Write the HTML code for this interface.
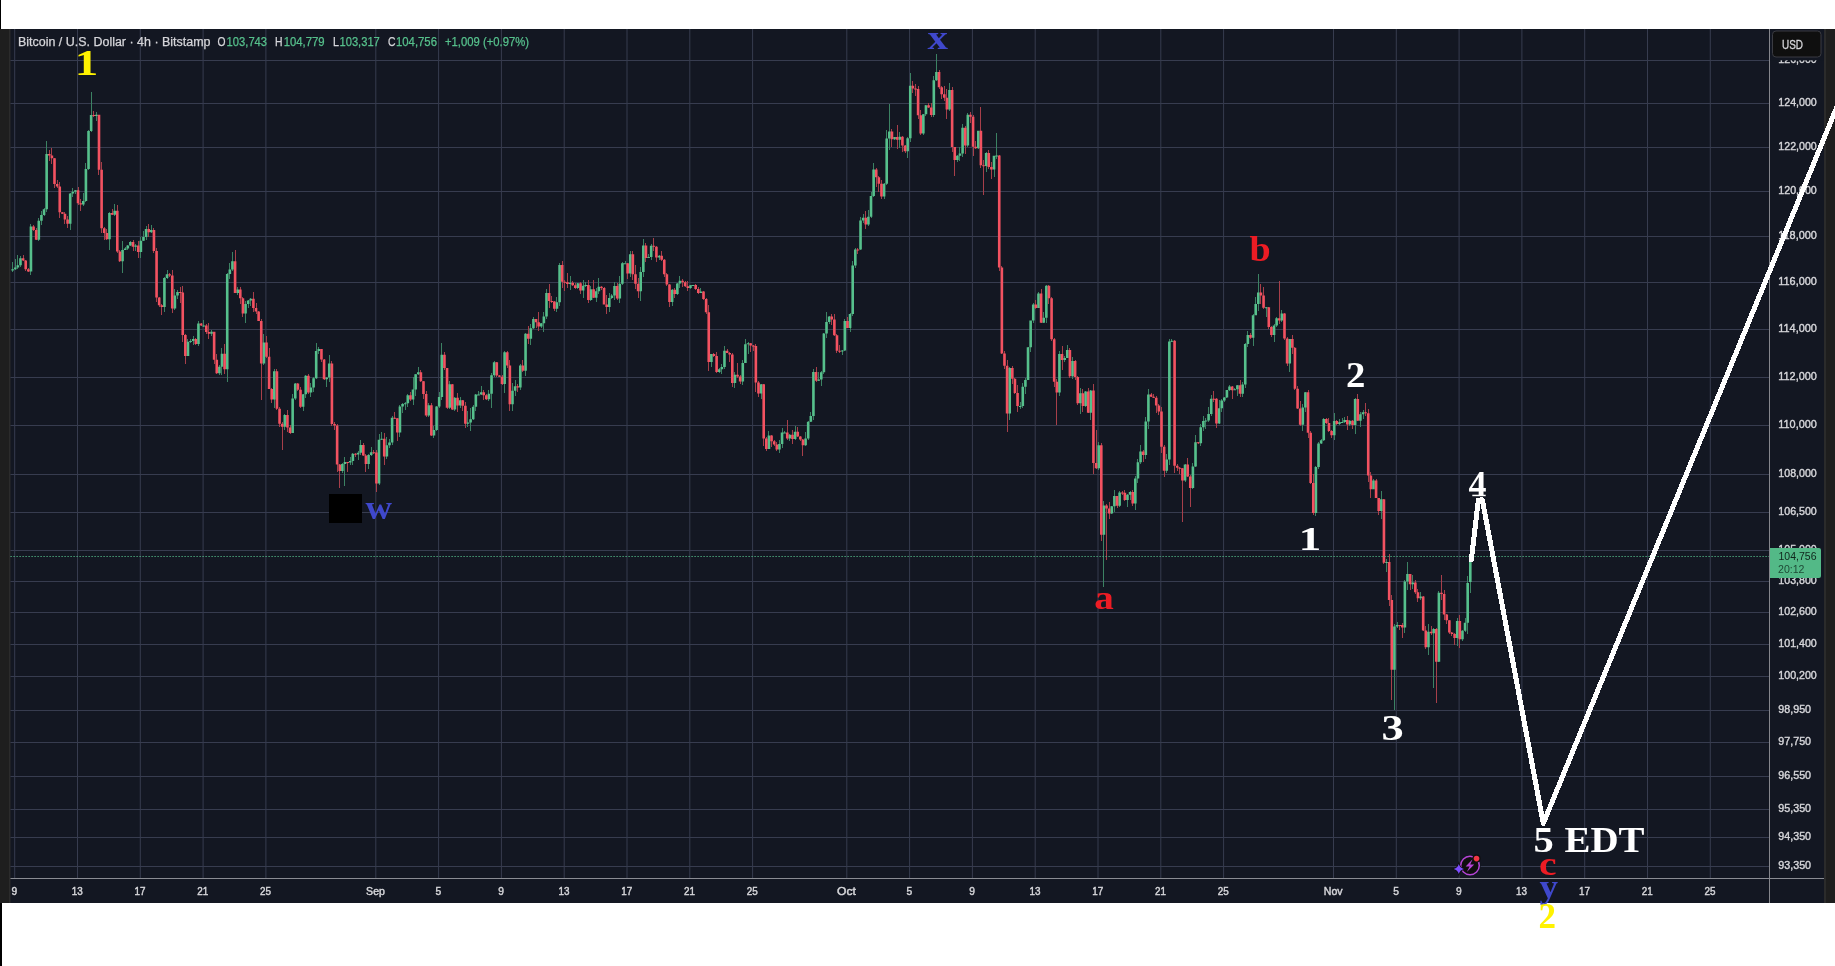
<!DOCTYPE html>
<html><head><meta charset="utf-8"><title>BTCUSD</title>
<style>
html,body{margin:0;padding:0;background:#fff;}
body{width:1835px;height:966px;overflow:hidden;position:relative;font-family:"Liberation Sans",sans-serif;}
svg{position:absolute;left:0;top:0;display:block;will-change:transform}
.s{font-family:"Liberation Sans",sans-serif}
.e{font-family:"Liberation Serif",serif;font-weight:bold}
</style></head><body>
<svg width="1835" height="966" viewBox="0 0 1835 966">
<rect x="0" y="0" width="1835" height="966" fill="#fff"/>
<rect x="0" y="0" width="1" height="29" fill="#000"/>
<rect x="0" y="903" width="2" height="63" fill="#000"/>
<rect x="0" y="29" width="1835" height="874" fill="#1e1e1e"/>
<rect x="9" y="29" width="1817" height="874" fill="#2b2b2b"/>
<rect x="10.5" y="29" width="1813.5" height="874" fill="#131722"/>

<path d="M10.5 60.5H1770M10.5 103.5H1770M10.5 147.5H1770M10.5 191.5H1770M10.5 236.5H1770M10.5 282.5H1770M10.5 329.5H1770M10.5 377.5H1770M10.5 425.5H1770M10.5 474.5H1770M10.5 512.5H1770M10.5 550.5H1770M10.5 581.5H1770M10.5 612.5H1770M10.5 644.5H1770M10.5 676.5H1770M10.5 710.5H1770M10.5 742.5H1770M10.5 776.5H1770M10.5 809.5H1770M10.5 837.5H1770M10.5 866.5H1770M14.7 29V878.5M77.5 29V878.5M140.3 29V878.5M203.1 29V878.5M265.9 29V878.5M375.8 29V878.5M438.6 29V878.5M501.4 29V878.5M564.2 29V878.5M627.0 29V878.5M689.8 29V878.5M752.6 29V878.5M846.8 29V878.5M909.6 29V878.5M972.4 29V878.5M1035.2 29V878.5M1098.0 29V878.5M1160.8 29V878.5M1223.6 29V878.5M1333.5 29V878.5M1396.3 29V878.5M1459.1 29V878.5M1521.9 29V878.5M1584.7 29V878.5M1647.5 29V878.5M1710.3 29V878.5" stroke="#373c4f" stroke-width="1" fill="none"/>

<g shape-rendering="crispEdges">
<path d="M12.63 262.2V271.8M15.25 258.6V269.5M17.87 254.8V268.7M20.48 256.0V266.6M30.95 223.5V275.0M38.80 218.1V241.1M41.42 211.3V225.4M44.03 208.4V215.5M46.65 141.0V212.3M70.20 192.5V229.9M72.82 188.4V196.5M75.44 190.2V194.1M83.29 193.3V205.5M85.91 162.7V201.5M88.52 129.9V170.3M91.14 91.7V131.7M96.38 112.1V120.6M109.46 212.4V249.5M114.69 204.2V215.9M122.54 240.5V272.5M125.16 247.4V250.4M127.78 244.5V249.5M130.40 241.4V245.7M135.63 243.7V251.2M140.86 237.2V257.6M143.48 231.1V241.0M146.10 225.6V239.7M151.33 224.5V232.5M164.42 277.0V311.6M167.03 269.6V279.1M174.88 289.3V310.3M177.50 289.7V298.7M187.97 338.7V356.2M190.59 339.2V343.1M193.20 336.0V345.0M198.44 320.9V345.6M203.67 320.2V326.7M211.52 329.8V335.9M219.37 365.2V374.6M221.99 348.3V375.2M227.22 273.3V382.0M229.84 262.9V278.7M232.46 251.7V271.0M237.69 287.3V294.5M245.54 300.7V323.2M248.16 299.6V308.0M250.78 297.9V305.5M263.86 334.3V365.3M274.33 368.8V407.5M284.80 413.7V430.2M292.65 394.2V433.1M295.27 383.3V400.1M303.12 393.5V411.3M305.73 374.9V397.7M310.97 382.8V396.9M313.59 376.7V391.7M316.20 343.0V379.3M318.82 347.1V353.7M326.67 377.4V386.5M329.29 354.9V381.9M342.37 462.7V473.3M344.99 457.0V486.0M350.22 456.7V465.0M352.84 452.5V464.5M358.08 451.0V460.2M360.69 440.4V455.0M368.54 453.9V469.2M371.16 447.2V455.7M379.01 434.0V484.6M381.63 431.9V440.2M386.86 436.6V459.0M389.48 439.4V448.1M392.10 416.4V445.0M399.95 404.9V437.1M402.56 402.7V413.2M405.18 402.1V410.2M407.80 393.8V407.4M413.03 376.9V404.8M415.65 374.0V396.2M418.27 367.1V375.4M428.73 402.6V417.1M433.97 426.1V438.0M436.59 405.8V431.2M439.20 392.4V407.9M441.82 343.0V400.1M449.67 381.3V409.0M454.90 396.7V410.5M460.14 396.7V408.0M467.99 411.2V427.3M470.61 408.1V431.1M473.22 405.0V419.7M475.84 394.2V410.9M478.46 391.2V395.3M481.07 385.5V395.2M488.92 390.1V400.8M491.54 373.0V407.9M494.16 361.3V376.6M504.63 351.1V392.8M512.48 382.5V411.2M515.09 380.4V395.5M520.33 363.8V389.7M525.56 332.9V375.7M530.80 323.7V345.3M533.41 316.5V328.9M541.26 322.9V328.2M543.88 312.2V332.0M546.50 288.5V319.1M556.97 296.9V312.2M559.58 263.4V306.2M570.05 276.3V289.7M577.90 283.1V288.7M583.14 280.3V297.6M585.75 281.5V287.4M590.99 285.7V301.0M596.22 287.6V301.8M598.84 278.4V294.2M609.31 292.9V311.8M611.92 293.5V298.6M614.54 282.2V300.4M619.77 276.2V302.5M622.39 262.1V284.5M625.01 261.4V263.4M630.24 251.4V277.2M640.71 266.6V300.9M643.33 239.1V276.9M648.56 254.2V258.4M651.18 243.7V260.4M659.03 254.5V260.4M672.12 289.3V305.7M677.35 283.1V295.3M679.97 276.0V288.1M690.43 285.1V289.4M693.05 284.9V285.6M700.90 288.2V293.0M711.37 354.0V367.2M719.22 367.9V372.5M721.84 363.8V373.5M724.45 346.2V368.9M734.92 372.3V388.2M742.77 359.5V385.2M745.39 339.2V363.3M748.01 341.9V353.9M761.09 384.1V398.7M768.94 431.4V449.1M779.41 440.1V452.9M782.03 427.7V448.2M784.65 431.2V432.9M789.88 434.2V440.7M795.11 426.0V439.7M805.58 432.4V446.0M808.20 420.6V439.8M810.82 411.9V422.0M813.43 369.3V420.1M818.67 372.2V381.2M821.28 370.8V385.5M823.90 332.5V373.6M826.52 312.2V338.4M829.13 316.2V323.6M842.22 349.5V354.8M844.84 318.9V351.4M850.07 313.3V331.9M852.69 261.4V316.2M855.30 248.4V268.0M860.54 217.2V249.5M863.16 214.2V222.5M868.39 210.3V226.4M871.01 192.2V218.0M873.62 162.6V197.0M884.09 183.0V199.3M886.71 130.3V185.2M889.33 104.0V149.7M894.56 136.7V140.0M899.79 132.4V148.1M907.64 136.6V157.5M910.26 73.0V142.3M923.35 114.2V134.5M925.96 104.8V115.6M933.81 76.4V116.8M936.43 54.0V81.3M949.52 83.1V111.3M957.37 155.0V162.4M959.98 147.2V161.0M962.60 123.5V156.5M967.84 112.8V146.8M978.30 130.7V148.9M986.15 151.7V171.5M994.01 155.7V176.9M996.62 133.0V159.4M1009.71 367.0V419.6M1020.18 402.2V408.7M1022.79 382.9V407.8M1025.41 378.3V393.7M1028.03 346.7V380.3M1030.64 320.6V352.4M1033.26 302.8V322.8M1038.49 292.2V308.2M1043.73 311.7V322.9M1046.35 284.6V322.5M1059.43 350.6V395.5M1064.66 356.0V362.3M1067.28 344.7V358.3M1072.52 357.4V378.6M1080.37 388.0V413.7M1085.60 391.0V406.7M1090.84 389.6V419.9M1098.69 442.0V469.5M1103.92 500.9V587.4M1111.77 505.6V514.3M1114.39 489.7V511.5M1119.62 490.9V507.0M1127.47 493.5V506.7M1130.09 490.8V499.6M1135.32 476.1V510.1M1137.94 459.4V483.1M1140.56 444.8V464.0M1145.79 417.4V458.6M1148.41 388.9V428.6M1166.73 453.9V473.0M1169.35 339.0V464.5M1171.96 339.0V342.4M1185.05 463.9V481.6M1192.90 463.1V488.9M1195.51 435.4V467.0M1200.75 424.4V445.7M1203.37 416.4V430.8M1205.98 418.4V428.7M1208.60 407.3V422.4M1211.22 394.7V415.7M1219.07 400.0V423.5M1221.68 399.4V412.2M1224.30 397.2V401.8M1226.92 389.7V397.9M1229.54 385.1V391.0M1234.77 388.3V390.3M1237.39 384.8V396.1M1242.62 382.1V397.2M1245.24 342.8V387.8M1247.86 331.3V346.8M1253.09 314.2V346.2M1255.71 297.3V315.4M1258.32 274.0V310.5M1266.17 306.9V317.4M1274.02 324.2V341.8M1276.64 316.9V326.9M1281.88 309.8V321.7M1289.73 338.6V371.7M1302.81 404.3V430.5M1305.43 391.5V412.3M1315.90 466.2V515.8M1318.51 442.0V468.6M1321.13 438.6V444.3M1323.75 418.0V441.2M1334.22 412.7V439.6M1339.45 418.9V424.9M1342.07 418.4V423.4M1344.68 416.6V423.3M1349.92 420.1V425.6M1355.15 397.6V433.6M1360.39 412.1V427.1M1363.00 410.2V418.9M1373.47 479.0V489.4M1381.32 491.0V518.8M1386.56 558.6V571.5M1394.41 623.7V710.4M1397.02 622.3V628.0M1404.88 579.5V632.9M1407.49 562.0V589.9M1412.73 575.4V589.0M1420.58 592.0V599.5M1428.43 623.8V654.8M1433.66 627.9V687.5M1438.90 591.2V662.3M1457.21 617.9V646.2M1462.45 629.5V641.1M1465.07 617.8V632.1M1467.68 575.6V633.8M1470.30 555.5V593.0" stroke="#3c8263" stroke-width="1" fill="none"/>
<path d="M23.10 255.2V261.4M25.72 259.8V270.8M28.33 267.7V272.4M33.57 225.0V231.4M36.18 228.0V240.2M49.27 150.2V160.8M51.89 148.3V163.9M54.50 158.1V188.2M57.12 179.8V188.4M59.74 182.0V218.3M62.35 211.6V214.1M64.97 212.3V223.9M67.59 216.2V227.6M78.06 187.4V205.0M80.67 198.5V211.1M93.76 111.3V117.2M98.99 114.6V174.5M101.61 161.7V233.2M104.23 227.3V240.1M106.84 228.9V240.0M112.08 208.6V215.3M117.31 204.7V252.7M119.93 249.8V262.0M133.01 239.9V250.6M138.25 240.9V258.3M148.71 223.9V236.7M153.95 227.9V253.0M156.57 247.7V302.4M159.18 296.7V307.1M161.80 303.9V314.7M169.65 273.4V277.0M172.27 270.3V312.6M180.12 286.7V302.5M182.74 285.7V342.2M185.35 334.1V364.2M195.82 338.1V345.3M201.06 322.7V326.4M206.29 324.2V333.8M208.91 322.8V338.8M214.14 331.6V363.9M216.76 354.4V373.6M224.61 344.3V373.8M235.08 250.0V293.3M240.31 286.5V304.1M242.93 297.0V317.2M253.39 292.2V312.4M256.01 303.3V313.9M258.63 311.1V321.3M261.25 318.6V400.0M266.48 335.9V357.5M269.10 347.8V389.3M271.71 388.2V403.0M276.95 369.0V410.1M279.57 407.0V426.6M282.18 421.7V450.0M287.42 410.4V432.3M290.03 424.9V434.2M297.88 383.3V390.9M300.50 386.7V407.8M308.35 373.9V393.5M321.44 348.6V361.8M324.05 358.6V379.8M331.90 361.0V426.1M334.52 422.2V430.0M337.14 424.3V471.7M339.76 464.2V488.0M347.61 461.6V471.6M355.46 452.9V457.3M363.31 443.1V456.2M365.93 454.2V471.7M373.78 450.4V453.6M376.39 449.7V492.0M384.24 432.6V464.7M394.71 411.8V419.1M397.33 418.3V440.6M410.41 392.4V400.6M420.88 370.2V381.8M423.50 381.0V399.2M426.12 391.0V416.7M431.35 402.9V435.9M444.44 352.4V370.0M447.05 368.1V409.2M452.29 383.7V410.0M457.52 392.7V412.4M462.75 399.8V411.3M465.37 402.4V427.9M483.69 389.6V399.9M486.31 393.6V400.3M496.78 362.2V376.5M499.39 374.6V377.1M502.01 374.8V384.6M507.24 351.4V368.4M509.86 360.1V411.4M517.71 383.9V391.6M522.95 359.8V371.9M528.18 326.2V343.6M536.03 318.8V328.4M538.65 311.6V330.6M549.12 283.8V307.5M551.73 296.4V303.0M554.35 300.6V310.5M562.20 260.8V288.2M564.82 280.1V290.7M567.43 273.3V287.9M572.67 281.1V285.7M575.29 283.4V289.3M580.52 281.9V293.6M588.37 280.4V302.7M593.60 279.8V298.3M601.46 286.0V290.1M604.07 287.3V304.4M606.69 294.6V313.5M617.16 282.8V299.6M627.63 262.7V278.6M632.86 251.3V280.2M635.48 264.7V288.6M638.09 277.7V297.7M645.94 242.7V262.1M653.80 237.5V250.8M656.41 246.1V261.9M661.65 250.7V260.9M664.26 259.4V276.7M666.88 273.3V285.9M669.50 283.5V307.1M674.73 288.2V297.6M682.58 278.9V286.6M685.20 280.6V287.0M687.82 281.3V290.8M695.67 284.0V290.1M698.28 287.0V293.6M703.52 290.8V300.0M706.14 297.7V313.6M708.75 305.3V370.6M713.99 352.7V356.6M716.60 352.2V373.1M727.07 348.9V353.4M729.69 351.7V362.0M732.31 352.9V386.7M737.54 363.3V378.1M740.16 375.4V384.3M750.62 343.0V351.5M753.24 344.7V350.7M755.86 344.2V392.3M758.48 380.6V396.9M763.71 383.5V445.6M766.33 437.0V451.4M771.56 434.9V446.6M774.18 439.9V446.4M776.79 441.5V450.6M787.26 420.1V439.5M792.50 430.2V444.0M797.73 426.6V436.9M800.35 436.1V440.7M802.96 438.6V455.7M816.05 366.6V381.7M831.75 314.4V325.2M834.37 314.2V335.7M836.99 334.1V353.0M839.60 344.7V352.5M847.45 316.5V328.1M857.92 248.4V253.8M865.77 210.6V228.5M876.24 167.5V186.9M878.86 176.3V191.8M881.47 179.7V198.8M891.94 129.0V147.4M897.18 125.0V148.6M902.41 135.6V152.0M905.03 145.1V152.8M912.88 80.6V92.9M915.50 83.9V95.6M918.11 86.4V118.9M920.73 110.4V134.8M928.58 103.2V107.8M931.20 102.7V116.6M939.05 69.7V88.5M941.67 85.5V99.3M944.28 86.0V100.8M946.90 89.0V119.3M952.13 87.0V151.8M954.75 147.0V176.0M965.22 125.6V154.2M970.45 111.5V123.4M973.07 115.4V155.9M975.69 141.1V149.0M980.92 107.0V167.9M983.54 159.8V195.0M988.77 149.9V168.6M991.39 161.7V179.0M999.24 155.2V271.2M1001.86 265.6V353.8M1004.47 351.4V368.8M1007.09 360.0V431.6M1012.32 366.2V384.3M1014.94 378.1V393.6M1017.56 384.5V412.4M1035.88 299.7V309.4M1041.11 288.6V323.0M1048.96 284.6V303.7M1051.58 296.9V340.6M1054.20 338.0V387.2M1056.81 378.9V425.0M1062.05 345.6V370.0M1069.90 348.2V377.6M1075.13 359.7V380.0M1077.75 376.0V405.0M1082.98 389.1V411.8M1088.22 388.2V413.3M1093.45 384.2V473.9M1096.07 430.0V469.4M1101.30 442.8V540.6M1106.54 504.0V560.0M1109.15 502.3V519.1M1117.00 495.6V507.8M1122.24 491.4V495.4M1124.86 489.8V500.8M1132.71 489.9V506.4M1143.17 450.0V461.7M1151.03 393.3V397.2M1153.64 394.3V397.9M1156.26 396.2V413.1M1158.88 403.9V415.0M1161.49 406.5V452.7M1164.11 444.6V476.6M1174.58 339.8V473.3M1177.20 464.0V470.9M1179.81 466.5V473.6M1182.43 467.9V522.0M1187.66 457.8V477.0M1190.28 475.3V507.0M1198.13 442.1V444.4M1213.83 390.8V402.1M1216.45 398.2V427.8M1232.15 385.7V399.2M1240.00 380.0V396.6M1250.47 333.2V338.5M1260.94 284.4V304.0M1263.56 287.4V308.6M1268.79 306.5V329.1M1271.41 325.5V337.2M1279.26 281.0V324.0M1284.49 312.5V339.9M1287.11 337.1V366.2M1292.34 335.0V353.5M1294.96 346.5V389.9M1297.58 385.9V408.5M1300.19 400.8V425.5M1308.05 389.9V438.0M1310.66 431.4V484.0M1313.28 473.5V514.7M1326.37 418.2V423.6M1328.98 417.8V431.8M1331.60 429.8V438.0M1336.83 419.5V425.4M1347.30 416.0V430.4M1352.53 419.6V429.1M1357.77 394.1V421.0M1365.62 402.6V415.9M1368.24 409.2V482.4M1370.85 472.4V498.1M1376.09 478.9V498.4M1378.70 497.6V514.6M1383.94 499.1V564.1M1389.17 553.7V606.1M1391.79 595.4V700.0M1399.64 624.9V630.1M1402.26 622.6V638.3M1410.11 573.7V590.4M1415.34 580.2V593.5M1417.96 589.2V602.3M1423.19 595.5V631.1M1425.81 625.7V648.5M1431.04 626.2V635.4M1436.28 628.2V703.0M1441.51 574.5V599.5M1444.13 590.0V619.6M1446.75 613.7V623.7M1449.36 620.0V634.1M1451.98 632.3V636.4M1454.60 633.0V644.7M1459.83 614.7V648.2" stroke="#a73f4a" stroke-width="1" fill="none"/>
</g>
<path d="M11.32 269.2h2.617V270.4h-2.617zM13.94 267.5h2.617V269.2h-2.617zM16.56 265.3h2.617V267.5h-2.617zM19.17 258.3h2.617V265.3h-2.617zM29.64 226.5h2.617V271.5h-2.617zM37.49 220.7h2.617V239.7h-2.617zM40.11 215.1h2.617V220.7h-2.617zM42.73 209.3h2.617V215.1h-2.617zM45.34 154.0h2.617V209.3h-2.617zM68.90 193.4h2.617V223.7h-2.617zM71.51 191.7h2.617V193.4h-2.617zM74.13 190.3h2.617V191.7h-2.617zM81.98 200.9h2.617V204.5h-2.617zM84.60 169.0h2.617V200.9h-2.617zM87.22 131.1h2.617V169.0h-2.617zM89.83 114.9h2.617V131.1h-2.617zM95.07 114.8h2.617V115.9h-2.617zM108.15 213.0h2.617V239.3h-2.617zM113.39 210.7h2.617V214.7h-2.617zM121.24 249.9h2.617V261.3h-2.617zM123.85 248.6h2.617V249.9h-2.617zM126.47 245.6h2.617V248.6h-2.617zM129.09 242.0h2.617V245.6h-2.617zM134.32 245.6h2.617V246.8h-2.617zM139.56 240.7h2.617V251.9h-2.617zM142.17 236.9h2.617V240.7h-2.617zM144.79 229.0h2.617V236.9h-2.617zM150.02 230.1h2.617V232.3h-2.617zM163.11 278.1h2.617V306.9h-2.617zM165.73 274.3h2.617V278.1h-2.617zM173.58 295.6h2.617V308.5h-2.617zM176.19 292.0h2.617V295.6h-2.617zM186.66 341.7h2.617V355.9h-2.617zM189.28 341.1h2.617V342.1h-2.617zM191.90 339.1h2.617V341.1h-2.617zM197.13 323.6h2.617V344.0h-2.617zM202.36 325.5h2.617V326.5h-2.617zM210.21 331.8h2.617V333.7h-2.617zM218.07 366.8h2.617V373.2h-2.617zM220.68 353.8h2.617V366.8h-2.617zM225.92 273.9h2.617V369.3h-2.617zM228.53 269.6h2.617V273.9h-2.617zM231.15 261.2h2.617V269.6h-2.617zM236.38 289.6h2.617V293.0h-2.617zM244.24 304.1h2.617V313.4h-2.617zM246.85 300.6h2.617V304.1h-2.617zM249.47 298.8h2.617V300.6h-2.617zM262.55 342.5h2.617V363.4h-2.617zM273.02 371.2h2.617V399.4h-2.617zM283.49 415.0h2.617V426.7h-2.617zM291.34 398.5h2.617V433.0h-2.617zM293.96 383.5h2.617V398.5h-2.617zM301.81 394.2h2.617V406.7h-2.617zM304.43 375.8h2.617V394.2h-2.617zM309.66 387.6h2.617V392.6h-2.617zM312.28 378.3h2.617V387.6h-2.617zM314.89 351.0h2.617V378.3h-2.617zM317.51 349.1h2.617V351.0h-2.617zM325.36 377.5h2.617V379.2h-2.617zM327.98 363.6h2.617V377.5h-2.617zM341.06 463.9h2.617V470.9h-2.617zM343.68 461.9h2.617V463.9h-2.617zM348.92 461.1h2.617V462.4h-2.617zM351.53 453.7h2.617V461.1h-2.617zM356.77 452.7h2.617V454.5h-2.617zM359.38 445.1h2.617V452.7h-2.617zM367.23 455.1h2.617V464.1h-2.617zM369.85 452.2h2.617V455.1h-2.617zM377.70 439.7h2.617V483.6h-2.617zM380.32 438.7h2.617V439.7h-2.617zM385.55 445.2h2.617V456.4h-2.617zM388.17 442.5h2.617V445.2h-2.617zM390.79 417.8h2.617V442.5h-2.617zM398.64 406.5h2.617V432.6h-2.617zM401.26 403.9h2.617V406.5h-2.617zM403.87 403.3h2.617V404.3h-2.617zM406.49 395.3h2.617V403.3h-2.617zM411.72 389.5h2.617V399.6h-2.617zM414.34 374.2h2.617V389.5h-2.617zM416.96 372.2h2.617V374.2h-2.617zM427.43 405.2h2.617V415.4h-2.617zM432.66 430.0h2.617V435.4h-2.617zM435.28 406.4h2.617V430.0h-2.617zM437.89 397.1h2.617V406.4h-2.617zM440.51 354.7h2.617V397.1h-2.617zM448.36 384.3h2.617V407.8h-2.617zM453.60 397.8h2.617V409.5h-2.617zM458.83 400.3h2.617V405.6h-2.617zM466.68 422.6h2.617V423.8h-2.617zM469.30 419.2h2.617V422.6h-2.617zM471.91 406.8h2.617V419.2h-2.617zM474.53 394.4h2.617V406.8h-2.617zM477.15 394.4h2.617V395.4h-2.617zM479.77 392.2h2.617V394.4h-2.617zM487.62 393.8h2.617V399.3h-2.617zM490.23 375.3h2.617V393.8h-2.617zM492.85 362.3h2.617V375.3h-2.617zM503.32 352.3h2.617V383.9h-2.617zM511.17 390.7h2.617V404.2h-2.617zM513.79 386.2h2.617V390.7h-2.617zM519.02 365.4h2.617V387.5h-2.617zM524.25 333.8h2.617V370.8h-2.617zM529.49 328.3h2.617V338.7h-2.617zM532.11 319.1h2.617V328.3h-2.617zM539.96 323.3h2.617V326.5h-2.617zM542.57 316.5h2.617V323.3h-2.617zM545.19 293.0h2.617V316.5h-2.617zM555.66 302.2h2.617V308.8h-2.617zM558.28 265.0h2.617V302.2h-2.617zM568.74 282.8h2.617V284.0h-2.617zM576.59 283.3h2.617V287.9h-2.617zM581.83 285.8h2.617V290.4h-2.617zM584.45 284.9h2.617V285.9h-2.617zM589.68 289.3h2.617V300.1h-2.617zM594.91 291.2h2.617V297.8h-2.617zM597.53 286.8h2.617V291.2h-2.617zM608.00 298.0h2.617V307.1h-2.617zM610.62 295.6h2.617V298.0h-2.617zM613.23 285.9h2.617V295.6h-2.617zM618.47 283.8h2.617V298.6h-2.617zM621.08 263.2h2.617V283.8h-2.617zM623.70 263.2h2.617V264.2h-2.617zM628.93 254.2h2.617V273.5h-2.617zM639.40 272.1h2.617V291.2h-2.617zM642.02 245.5h2.617V272.1h-2.617zM647.25 257.1h2.617V258.1h-2.617zM649.87 245.8h2.617V257.1h-2.617zM657.72 255.8h2.617V257.4h-2.617zM670.81 289.8h2.617V302.1h-2.617zM676.04 283.4h2.617V294.1h-2.617zM678.66 280.8h2.617V283.4h-2.617zM689.13 285.2h2.617V287.9h-2.617zM691.74 285.0h2.617V286.0h-2.617zM699.59 291.6h2.617V292.9h-2.617zM710.06 354.1h2.617V362.0h-2.617zM717.91 369.3h2.617V371.9h-2.617zM720.53 367.0h2.617V369.3h-2.617zM723.15 350.7h2.617V367.0h-2.617zM733.61 374.7h2.617V382.9h-2.617zM741.47 363.1h2.617V381.6h-2.617zM744.08 344.3h2.617V363.1h-2.617zM746.70 343.3h2.617V344.3h-2.617zM759.78 384.3h2.617V393.5h-2.617zM767.64 435.5h2.617V449.1h-2.617zM778.10 444.0h2.617V449.6h-2.617zM780.72 432.6h2.617V444.0h-2.617zM783.34 432.4h2.617V433.4h-2.617zM788.57 434.7h2.617V438.5h-2.617zM793.81 431.8h2.617V439.0h-2.617zM804.27 438.5h2.617V445.2h-2.617zM806.89 421.8h2.617V438.5h-2.617zM809.51 416.1h2.617V421.8h-2.617zM812.12 372.1h2.617V416.1h-2.617zM817.36 379.4h2.617V380.8h-2.617zM819.98 372.3h2.617V379.4h-2.617zM822.59 333.6h2.617V372.3h-2.617zM825.21 322.0h2.617V333.6h-2.617zM827.83 316.5h2.617V322.0h-2.617zM840.91 350.5h2.617V351.5h-2.617zM843.53 320.9h2.617V350.5h-2.617zM848.76 314.1h2.617V327.9h-2.617zM851.38 265.5h2.617V314.1h-2.617zM854.00 249.4h2.617V265.5h-2.617zM859.23 220.4h2.617V249.4h-2.617zM861.85 217.8h2.617V220.4h-2.617zM867.08 216.7h2.617V224.5h-2.617zM869.70 196.1h2.617V216.7h-2.617zM872.32 169.6h2.617V196.1h-2.617zM882.78 183.7h2.617V196.6h-2.617zM885.40 138.6h2.617V183.7h-2.617zM888.02 131.6h2.617V138.6h-2.617zM893.25 137.1h2.617V139.2h-2.617zM898.49 136.7h2.617V139.7h-2.617zM906.34 138.2h2.617V151.2h-2.617zM908.95 85.7h2.617V138.2h-2.617zM922.04 114.3h2.617V133.4h-2.617zM924.66 105.3h2.617V114.3h-2.617zM932.51 80.3h2.617V115.1h-2.617zM935.12 71.9h2.617V80.3h-2.617zM948.21 89.9h2.617V109.5h-2.617zM956.06 155.7h2.617V159.9h-2.617zM958.68 153.5h2.617V155.7h-2.617zM961.29 127.8h2.617V153.5h-2.617zM966.53 114.8h2.617V145.6h-2.617zM977.00 130.8h2.617V148.2h-2.617zM984.85 153.1h2.617V166.0h-2.617zM992.70 155.8h2.617V169.5h-2.617zM995.31 155.5h2.617V156.5h-2.617zM1008.40 368.0h2.617V413.6h-2.617zM1018.87 406.1h2.617V407.1h-2.617zM1021.48 386.8h2.617V406.1h-2.617zM1024.10 380.0h2.617V386.8h-2.617zM1026.72 347.3h2.617V380.0h-2.617zM1029.34 320.6h2.617V347.3h-2.617zM1031.95 304.5h2.617V320.6h-2.617zM1037.19 293.6h2.617V308.0h-2.617zM1042.42 317.7h2.617V322.8h-2.617zM1045.04 285.7h2.617V317.7h-2.617zM1058.12 353.9h2.617V392.4h-2.617zM1063.36 358.1h2.617V360.1h-2.617zM1065.97 349.9h2.617V358.1h-2.617zM1071.21 361.1h2.617V376.2h-2.617zM1079.06 393.2h2.617V403.2h-2.617zM1084.29 391.6h2.617V405.9h-2.617zM1089.53 390.4h2.617V412.7h-2.617zM1097.38 445.2h2.617V468.3h-2.617zM1102.61 505.6h2.617V534.7h-2.617zM1110.46 506.3h2.617V513.5h-2.617zM1113.08 496.1h2.617V506.3h-2.617zM1118.31 492.5h2.617V505.8h-2.617zM1126.16 494.7h2.617V499.9h-2.617zM1128.78 492.1h2.617V494.7h-2.617zM1134.02 478.5h2.617V503.5h-2.617zM1136.63 462.2h2.617V478.5h-2.617zM1139.25 451.5h2.617V462.2h-2.617zM1144.48 421.4h2.617V455.0h-2.617zM1147.10 394.5h2.617V421.4h-2.617zM1165.42 459.6h2.617V470.7h-2.617zM1168.04 341.5h2.617V459.6h-2.617zM1170.65 340.8h2.617V341.8h-2.617zM1183.74 464.4h2.617V480.4h-2.617zM1191.59 466.4h2.617V487.9h-2.617zM1194.21 442.3h2.617V466.4h-2.617zM1199.44 427.3h2.617V443.2h-2.617zM1202.06 421.0h2.617V427.3h-2.617zM1204.67 420.4h2.617V421.4h-2.617zM1207.29 413.9h2.617V420.4h-2.617zM1209.91 398.8h2.617V413.9h-2.617zM1217.76 408.2h2.617V423.4h-2.617zM1220.38 400.5h2.617V408.2h-2.617zM1222.99 397.6h2.617V400.5h-2.617zM1225.61 389.9h2.617V397.6h-2.617zM1228.23 386.5h2.617V389.9h-2.617zM1233.46 389.2h2.617V390.2h-2.617zM1236.08 385.3h2.617V389.2h-2.617zM1241.31 384.4h2.617V393.8h-2.617zM1243.93 343.9h2.617V384.4h-2.617zM1246.55 334.9h2.617V343.9h-2.617zM1251.78 315.3h2.617V337.8h-2.617zM1254.40 304.0h2.617V315.3h-2.617zM1257.01 292.5h2.617V304.0h-2.617zM1264.87 307.3h2.617V308.3h-2.617zM1272.72 325.6h2.617V334.9h-2.617zM1275.33 318.3h2.617V325.6h-2.617zM1280.57 313.6h2.617V320.4h-2.617zM1288.42 339.1h2.617V363.6h-2.617zM1301.50 407.6h2.617V424.8h-2.617zM1304.12 392.2h2.617V407.6h-2.617zM1314.59 467.1h2.617V513.1h-2.617zM1317.21 443.4h2.617V467.1h-2.617zM1319.82 440.3h2.617V443.4h-2.617zM1322.44 418.9h2.617V440.3h-2.617zM1332.91 420.9h2.617V435.3h-2.617zM1338.14 422.3h2.617V423.9h-2.617zM1340.76 422.1h2.617V423.1h-2.617zM1343.38 419.9h2.617V422.1h-2.617zM1348.61 420.7h2.617V424.4h-2.617zM1353.84 399.0h2.617V425.1h-2.617zM1359.08 414.3h2.617V420.8h-2.617zM1361.69 412.3h2.617V414.3h-2.617zM1372.16 480.5h2.617V489.2h-2.617zM1380.01 499.2h2.617V511.0h-2.617zM1385.25 562.0h2.617V563.0h-2.617zM1393.10 626.4h2.617V669.7h-2.617zM1395.72 624.9h2.617V626.4h-2.617zM1403.57 581.6h2.617V627.6h-2.617zM1406.18 574.0h2.617V581.6h-2.617zM1411.42 582.6h2.617V584.3h-2.617zM1419.27 596.6h2.617V598.3h-2.617zM1427.12 631.8h2.617V647.3h-2.617zM1432.35 629.0h2.617V633.3h-2.617zM1437.59 592.8h2.617V661.7h-2.617zM1455.91 621.0h2.617V638.0h-2.617zM1461.14 630.8h2.617V639.2h-2.617zM1463.76 622.8h2.617V630.8h-2.617zM1466.37 582.9h2.617V622.8h-2.617zM1468.99 556.5h2.617V582.0h-2.617z" fill="#56c08c"/>
<path d="M21.79 258.3h2.617V260.6h-2.617zM24.41 260.6h2.617V269.3h-2.617zM27.02 269.3h2.617V271.5h-2.617zM32.26 226.5h2.617V230.0h-2.617zM34.88 230.0h2.617V239.7h-2.617zM47.96 154.0h2.617V155.5h-2.617zM50.58 155.5h2.617V158.2h-2.617zM53.19 158.2h2.617V184.0h-2.617zM55.81 184.0h2.617V186.4h-2.617zM58.43 186.4h2.617V212.2h-2.617zM61.05 212.2h2.617V213.7h-2.617zM63.66 213.7h2.617V219.4h-2.617zM66.28 219.4h2.617V223.7h-2.617zM76.75 190.3h2.617V203.2h-2.617zM79.36 203.2h2.617V204.5h-2.617zM92.45 114.9h2.617V115.9h-2.617zM97.68 114.8h2.617V169.8h-2.617zM100.30 169.8h2.617V228.2h-2.617zM102.92 228.2h2.617V233.1h-2.617zM105.53 233.1h2.617V239.3h-2.617zM110.77 213.0h2.617V214.7h-2.617zM116.00 210.7h2.617V251.5h-2.617zM118.62 251.5h2.617V261.3h-2.617zM131.70 242.0h2.617V246.8h-2.617zM136.94 245.6h2.617V251.9h-2.617zM147.41 229.0h2.617V232.3h-2.617zM152.64 230.1h2.617V251.0h-2.617zM155.26 251.0h2.617V297.4h-2.617zM157.87 297.4h2.617V305.2h-2.617zM160.49 305.2h2.617V306.9h-2.617zM168.34 274.3h2.617V275.4h-2.617zM170.96 275.4h2.617V308.5h-2.617zM178.81 292.0h2.617V293.0h-2.617zM181.43 292.6h2.617V335.0h-2.617zM184.04 335.0h2.617V355.9h-2.617zM194.51 339.1h2.617V344.0h-2.617zM199.75 323.6h2.617V325.5h-2.617zM204.98 325.5h2.617V332.0h-2.617zM207.60 332.0h2.617V333.7h-2.617zM212.83 331.8h2.617V359.7h-2.617zM215.45 359.7h2.617V373.2h-2.617zM223.30 353.8h2.617V369.3h-2.617zM233.77 261.2h2.617V293.0h-2.617zM239.00 289.6h2.617V298.3h-2.617zM241.62 298.3h2.617V313.4h-2.617zM252.09 298.8h2.617V308.1h-2.617zM254.70 308.1h2.617V311.6h-2.617zM257.32 311.6h2.617V320.9h-2.617zM259.94 320.9h2.617V363.4h-2.617zM265.17 342.5h2.617V356.7h-2.617zM267.79 356.7h2.617V389.1h-2.617zM270.41 389.1h2.617V399.4h-2.617zM275.64 371.2h2.617V408.8h-2.617zM278.26 408.8h2.617V423.7h-2.617zM280.87 423.7h2.617V426.7h-2.617zM286.11 415.0h2.617V427.5h-2.617zM288.72 427.5h2.617V433.0h-2.617zM296.58 383.5h2.617V389.7h-2.617zM299.19 389.7h2.617V406.7h-2.617zM307.04 375.8h2.617V392.6h-2.617zM320.13 349.1h2.617V359.6h-2.617zM322.75 359.6h2.617V379.2h-2.617zM330.60 363.6h2.617V424.1h-2.617zM333.21 424.1h2.617V425.6h-2.617zM335.83 425.6h2.617V464.5h-2.617zM338.45 464.5h2.617V470.9h-2.617zM346.30 461.9h2.617V462.9h-2.617zM354.15 453.7h2.617V454.7h-2.617zM362.00 445.1h2.617V455.4h-2.617zM364.62 455.4h2.617V464.1h-2.617zM372.47 452.2h2.617V453.2h-2.617zM375.09 452.4h2.617V483.6h-2.617zM382.94 438.7h2.617V456.4h-2.617zM393.40 417.8h2.617V418.8h-2.617zM396.02 418.3h2.617V432.6h-2.617zM409.11 395.3h2.617V399.6h-2.617zM419.57 372.2h2.617V381.2h-2.617zM422.19 381.2h2.617V394.1h-2.617zM424.81 394.1h2.617V415.4h-2.617zM430.04 405.2h2.617V435.4h-2.617zM443.13 354.7h2.617V368.1h-2.617zM445.74 368.1h2.617V407.8h-2.617zM450.98 384.3h2.617V409.5h-2.617zM456.21 397.8h2.617V405.6h-2.617zM461.45 400.3h2.617V405.8h-2.617zM464.06 405.8h2.617V423.8h-2.617zM482.38 392.2h2.617V395.3h-2.617zM485.00 395.3h2.617V399.3h-2.617zM495.47 362.3h2.617V375.4h-2.617zM498.08 375.4h2.617V376.8h-2.617zM500.70 376.8h2.617V383.9h-2.617zM505.94 352.3h2.617V365.6h-2.617zM508.55 365.6h2.617V404.2h-2.617zM516.40 386.2h2.617V387.5h-2.617zM521.64 365.4h2.617V370.8h-2.617zM526.87 333.8h2.617V338.7h-2.617zM534.72 319.1h2.617V322.3h-2.617zM537.34 322.3h2.617V326.5h-2.617zM547.81 293.0h2.617V300.9h-2.617zM550.42 300.9h2.617V301.9h-2.617zM553.04 301.5h2.617V308.8h-2.617zM560.89 265.0h2.617V281.7h-2.617zM563.51 281.7h2.617V282.7h-2.617zM566.13 282.2h2.617V284.0h-2.617zM571.36 282.8h2.617V285.3h-2.617zM573.98 285.3h2.617V287.9h-2.617zM579.21 283.3h2.617V290.4h-2.617zM587.06 284.9h2.617V300.1h-2.617zM592.30 289.3h2.617V297.8h-2.617zM600.15 286.8h2.617V287.9h-2.617zM602.76 287.9h2.617V304.4h-2.617zM605.38 304.4h2.617V307.1h-2.617zM615.85 285.9h2.617V298.6h-2.617zM626.32 263.2h2.617V273.5h-2.617zM631.55 254.2h2.617V274.2h-2.617zM634.17 274.2h2.617V283.8h-2.617zM636.79 283.8h2.617V291.2h-2.617zM644.64 245.5h2.617V257.9h-2.617zM652.49 245.8h2.617V246.8h-2.617zM655.10 246.8h2.617V257.4h-2.617zM660.34 255.8h2.617V259.8h-2.617zM662.96 259.8h2.617V274.2h-2.617zM665.57 274.2h2.617V284.5h-2.617zM668.19 284.5h2.617V302.1h-2.617zM673.42 289.8h2.617V294.1h-2.617zM681.27 280.8h2.617V282.2h-2.617zM683.89 282.2h2.617V286.2h-2.617zM686.51 286.2h2.617V287.9h-2.617zM694.36 285.0h2.617V288.9h-2.617zM696.98 288.9h2.617V292.9h-2.617zM702.21 291.6h2.617V299.1h-2.617zM704.83 299.1h2.617V312.2h-2.617zM707.44 312.2h2.617V362.0h-2.617zM712.68 354.1h2.617V356.1h-2.617zM715.30 356.1h2.617V371.9h-2.617zM725.76 350.7h2.617V352.9h-2.617zM728.38 352.9h2.617V354.6h-2.617zM731.00 354.6h2.617V382.9h-2.617zM736.23 374.7h2.617V376.6h-2.617zM738.85 376.6h2.617V381.6h-2.617zM749.32 343.3h2.617V345.4h-2.617zM751.93 345.4h2.617V346.4h-2.617zM754.55 345.9h2.617V382.4h-2.617zM757.17 382.4h2.617V393.5h-2.617zM762.40 384.3h2.617V438.4h-2.617zM765.02 438.4h2.617V449.1h-2.617zM770.25 435.5h2.617V441.3h-2.617zM772.87 441.3h2.617V444.6h-2.617zM775.49 444.6h2.617V449.6h-2.617zM785.95 432.4h2.617V438.5h-2.617zM791.19 434.7h2.617V439.0h-2.617zM796.42 431.8h2.617V436.5h-2.617zM799.04 436.5h2.617V439.5h-2.617zM801.66 439.5h2.617V445.2h-2.617zM814.74 372.1h2.617V380.8h-2.617zM830.44 316.5h2.617V319.5h-2.617zM833.06 319.5h2.617V335.3h-2.617zM835.68 335.3h2.617V350.8h-2.617zM838.29 350.8h2.617V351.8h-2.617zM846.15 320.9h2.617V327.9h-2.617zM856.61 249.4h2.617V250.4h-2.617zM864.46 217.8h2.617V224.5h-2.617zM874.93 169.6h2.617V177.3h-2.617zM877.55 177.3h2.617V183.8h-2.617zM880.17 183.8h2.617V196.6h-2.617zM890.63 131.6h2.617V139.2h-2.617zM895.87 137.1h2.617V139.7h-2.617zM901.10 136.7h2.617V145.6h-2.617zM903.72 145.6h2.617V151.2h-2.617zM911.57 85.7h2.617V88.6h-2.617zM914.19 88.6h2.617V89.6h-2.617zM916.80 88.9h2.617V115.2h-2.617zM919.42 115.2h2.617V133.4h-2.617zM927.27 105.3h2.617V107.5h-2.617zM929.89 107.5h2.617V115.1h-2.617zM937.74 71.9h2.617V87.2h-2.617zM940.36 87.2h2.617V94.3h-2.617zM942.97 94.3h2.617V97.7h-2.617zM945.59 97.7h2.617V109.5h-2.617zM950.83 89.9h2.617V147.1h-2.617zM953.44 147.1h2.617V159.9h-2.617zM963.91 127.8h2.617V145.6h-2.617zM969.14 114.8h2.617V116.7h-2.617zM971.76 116.7h2.617V146.7h-2.617zM974.38 146.7h2.617V148.2h-2.617zM979.61 130.8h2.617V165.2h-2.617zM982.23 165.2h2.617V166.2h-2.617zM987.46 153.1h2.617V167.1h-2.617zM990.08 167.1h2.617V169.5h-2.617zM997.93 155.5h2.617V267.4h-2.617zM1000.55 267.4h2.617V353.4h-2.617zM1003.17 353.4h2.617V365.8h-2.617zM1005.78 365.8h2.617V413.6h-2.617zM1011.02 368.0h2.617V378.7h-2.617zM1013.63 378.7h2.617V393.1h-2.617zM1016.25 393.1h2.617V406.1h-2.617zM1034.57 304.5h2.617V308.0h-2.617zM1039.80 293.6h2.617V322.8h-2.617zM1047.65 285.7h2.617V298.3h-2.617zM1050.27 298.3h2.617V339.3h-2.617zM1052.89 339.3h2.617V381.7h-2.617zM1055.51 381.7h2.617V392.4h-2.617zM1060.74 353.9h2.617V360.1h-2.617zM1068.59 349.9h2.617V376.2h-2.617zM1073.82 361.1h2.617V376.9h-2.617zM1076.44 376.9h2.617V403.2h-2.617zM1081.68 393.2h2.617V405.9h-2.617zM1086.91 391.6h2.617V412.7h-2.617zM1092.14 390.4h2.617V463.0h-2.617zM1094.76 463.0h2.617V468.3h-2.617zM1099.99 445.2h2.617V534.7h-2.617zM1105.23 505.6h2.617V508.4h-2.617zM1107.85 508.4h2.617V513.5h-2.617zM1115.70 496.1h2.617V505.8h-2.617zM1120.93 492.5h2.617V493.5h-2.617zM1123.55 492.8h2.617V499.9h-2.617zM1131.40 492.1h2.617V503.5h-2.617zM1141.87 451.5h2.617V455.0h-2.617zM1149.72 394.5h2.617V396.7h-2.617zM1152.33 396.7h2.617V397.7h-2.617zM1154.95 397.7h2.617V405.4h-2.617zM1157.57 405.4h2.617V411.6h-2.617zM1160.19 411.6h2.617V446.8h-2.617zM1162.80 446.8h2.617V470.7h-2.617zM1173.27 340.8h2.617V465.8h-2.617zM1175.89 465.8h2.617V467.7h-2.617zM1178.50 467.7h2.617V468.7h-2.617zM1181.12 468.3h2.617V480.4h-2.617zM1186.36 464.4h2.617V476.6h-2.617zM1188.97 476.6h2.617V487.9h-2.617zM1196.82 442.3h2.617V443.3h-2.617zM1212.53 398.8h2.617V399.8h-2.617zM1215.14 398.8h2.617V423.4h-2.617zM1230.84 386.5h2.617V390.2h-2.617zM1238.70 385.3h2.617V393.8h-2.617zM1249.16 334.9h2.617V337.8h-2.617zM1259.63 292.5h2.617V295.6h-2.617zM1262.25 295.6h2.617V307.8h-2.617zM1267.48 307.3h2.617V326.9h-2.617zM1270.10 326.9h2.617V334.9h-2.617zM1277.95 318.3h2.617V320.4h-2.617zM1283.18 313.6h2.617V338.5h-2.617zM1285.80 338.5h2.617V363.6h-2.617zM1291.04 339.1h2.617V347.8h-2.617zM1293.65 347.8h2.617V388.7h-2.617zM1296.27 388.7h2.617V408.5h-2.617zM1298.89 408.5h2.617V424.8h-2.617zM1306.74 392.2h2.617V432.8h-2.617zM1309.35 432.8h2.617V482.9h-2.617zM1311.97 482.9h2.617V513.1h-2.617zM1325.06 418.9h2.617V423.0h-2.617zM1327.67 423.0h2.617V431.1h-2.617zM1330.29 431.1h2.617V435.3h-2.617zM1335.52 420.9h2.617V423.9h-2.617zM1345.99 419.9h2.617V424.4h-2.617zM1351.23 420.7h2.617V425.1h-2.617zM1356.46 399.0h2.617V420.8h-2.617zM1364.31 412.3h2.617V413.3h-2.617zM1366.93 413.3h2.617V475.6h-2.617zM1369.55 475.6h2.617V489.2h-2.617zM1374.78 480.5h2.617V497.9h-2.617zM1377.40 497.9h2.617V511.0h-2.617zM1382.63 499.2h2.617V562.7h-2.617zM1387.86 562.0h2.617V600.0h-2.617zM1390.48 600.0h2.617V669.7h-2.617zM1398.33 624.9h2.617V625.9h-2.617zM1400.95 625.1h2.617V627.6h-2.617zM1408.80 574.0h2.617V584.3h-2.617zM1414.03 582.6h2.617V592.3h-2.617zM1416.65 592.3h2.617V598.3h-2.617zM1421.89 596.6h2.617V630.4h-2.617zM1424.50 630.4h2.617V647.3h-2.617zM1429.74 631.8h2.617V633.3h-2.617zM1434.97 629.0h2.617V661.7h-2.617zM1440.20 592.8h2.617V594.0h-2.617zM1442.82 594.0h2.617V614.6h-2.617zM1445.44 614.6h2.617V620.3h-2.617zM1448.06 620.3h2.617V632.5h-2.617zM1450.67 632.5h2.617V634.1h-2.617zM1453.29 634.1h2.617V638.0h-2.617zM1458.52 621.0h2.617V639.2h-2.617z" fill="#f35261"/>

<path d="M10.5 556.5H1770" stroke="#56c08c" stroke-width="1" stroke-dasharray="1.2 1.8" fill="none"/>

<rect x="1769" y="29" width="1" height="874" fill="#85868c"/>
<rect x="10.5" y="878" width="1813.5" height="1" fill="#8a8c93"/>
<g class="s" font-size="11.5" fill="#d6d6da" stroke="#d6d6da" stroke-width="0.4">
<text x="1778.3" y="62.9" textLength="38.5" lengthAdjust="spacingAndGlyphs">126,000</text>
<text x="1778.3" y="105.9" textLength="38.5" lengthAdjust="spacingAndGlyphs">124,000</text>
<text x="1778.3" y="149.9" textLength="38.5" lengthAdjust="spacingAndGlyphs">122,000</text>
<text x="1778.3" y="193.9" textLength="38.5" lengthAdjust="spacingAndGlyphs">120,000</text>
<text x="1778.3" y="238.9" textLength="38.5" lengthAdjust="spacingAndGlyphs">118,000</text>
<text x="1778.3" y="284.9" textLength="38.5" lengthAdjust="spacingAndGlyphs">116,000</text>
<text x="1778.3" y="331.9" textLength="38.5" lengthAdjust="spacingAndGlyphs">114,000</text>
<text x="1778.3" y="379.9" textLength="38.5" lengthAdjust="spacingAndGlyphs">112,000</text>
<text x="1778.3" y="427.9" textLength="38.5" lengthAdjust="spacingAndGlyphs">110,000</text>
<text x="1778.3" y="476.9" textLength="38.5" lengthAdjust="spacingAndGlyphs">108,000</text>
<text x="1778.3" y="514.9" textLength="38.5" lengthAdjust="spacingAndGlyphs">106,500</text>
<text x="1778.3" y="552.9" textLength="38.5" lengthAdjust="spacingAndGlyphs">105,000</text>
<text x="1778.3" y="583.9" textLength="38.5" lengthAdjust="spacingAndGlyphs">103,800</text>
<text x="1778.3" y="614.9" textLength="38.5" lengthAdjust="spacingAndGlyphs">102,600</text>
<text x="1778.3" y="646.9" textLength="38.5" lengthAdjust="spacingAndGlyphs">101,400</text>
<text x="1778.3" y="678.9" textLength="38.5" lengthAdjust="spacingAndGlyphs">100,200</text>
<text x="1778.3" y="712.9" textLength="32.8" lengthAdjust="spacingAndGlyphs">98,950</text>
<text x="1778.3" y="744.9" textLength="32.8" lengthAdjust="spacingAndGlyphs">97,750</text>
<text x="1778.3" y="778.9" textLength="32.8" lengthAdjust="spacingAndGlyphs">96,550</text>
<text x="1778.3" y="811.9" textLength="32.8" lengthAdjust="spacingAndGlyphs">95,350</text>
<text x="1778.3" y="839.9" textLength="32.8" lengthAdjust="spacingAndGlyphs">94,350</text>
<text x="1778.3" y="868.9" textLength="32.8" lengthAdjust="spacingAndGlyphs">93,350</text>
</g>

<rect x="1770.5" y="29" width="53" height="31.3" fill="#131722"/>
<rect x="1772.5" y="31" width="48.5" height="26" rx="3.5" fill="#0f0f0f" stroke="#3a3b42" stroke-width="1"/>
<text class="s" x="1782" y="48.7" font-size="12" fill="#d6d6da" stroke="#d6d6da" stroke-width="0.3" textLength="21" lengthAdjust="spacingAndGlyphs">USD</text>

<path d="M1770 548H1819a2 2 0 0 1 2 2V576a2 2 0 0 1 -2 2H1770z" fill="#53b987"/>
<text class="s" x="1778.5" y="560" font-size="11.5" fill="#10261c" textLength="38" lengthAdjust="spacingAndGlyphs">104,756</text>
<text class="s" x="1778" y="573" font-size="11.5" fill="#1f4a36" textLength="26.5" lengthAdjust="spacingAndGlyphs">20:12</text>

<g class="s" font-size="11" fill="#d6d6da" stroke="#d6d6da" stroke-width="0.45" text-anchor="middle">
<text x="14.4" y="895.1" textLength="5.7" lengthAdjust="spacingAndGlyphs">9</text>
<text x="77.2" y="895.1" textLength="11.0" lengthAdjust="spacingAndGlyphs">13</text>
<text x="140.0" y="895.1" textLength="11.0" lengthAdjust="spacingAndGlyphs">17</text>
<text x="202.8" y="895.1" textLength="11.0" lengthAdjust="spacingAndGlyphs">21</text>
<text x="265.6" y="895.1" textLength="11.0" lengthAdjust="spacingAndGlyphs">25</text>
<text x="375.5" y="895.1" textLength="18.8" lengthAdjust="spacingAndGlyphs">Sep</text>
<text x="438.3" y="895.1" textLength="5.7" lengthAdjust="spacingAndGlyphs">5</text>
<text x="501.1" y="895.1" textLength="5.7" lengthAdjust="spacingAndGlyphs">9</text>
<text x="563.9" y="895.1" textLength="11.0" lengthAdjust="spacingAndGlyphs">13</text>
<text x="626.7" y="895.1" textLength="11.0" lengthAdjust="spacingAndGlyphs">17</text>
<text x="689.5" y="895.1" textLength="11.0" lengthAdjust="spacingAndGlyphs">21</text>
<text x="752.3" y="895.1" textLength="11.0" lengthAdjust="spacingAndGlyphs">25</text>
<text x="846.5" y="895.1" textLength="18.8" lengthAdjust="spacingAndGlyphs">Oct</text>
<text x="909.3" y="895.1" textLength="5.7" lengthAdjust="spacingAndGlyphs">5</text>
<text x="972.1" y="895.1" textLength="5.7" lengthAdjust="spacingAndGlyphs">9</text>
<text x="1034.9" y="895.1" textLength="11.0" lengthAdjust="spacingAndGlyphs">13</text>
<text x="1097.7" y="895.1" textLength="11.0" lengthAdjust="spacingAndGlyphs">17</text>
<text x="1160.5" y="895.1" textLength="11.0" lengthAdjust="spacingAndGlyphs">21</text>
<text x="1223.3" y="895.1" textLength="11.0" lengthAdjust="spacingAndGlyphs">25</text>
<text x="1333.2" y="895.1" textLength="18.8" lengthAdjust="spacingAndGlyphs">Nov</text>
<text x="1396.0" y="895.1" textLength="5.7" lengthAdjust="spacingAndGlyphs">5</text>
<text x="1458.8" y="895.1" textLength="5.7" lengthAdjust="spacingAndGlyphs">9</text>
<text x="1521.6" y="895.1" textLength="11.0" lengthAdjust="spacingAndGlyphs">13</text>
<text x="1584.4" y="895.1" textLength="11.0" lengthAdjust="spacingAndGlyphs">17</text>
<text x="1647.2" y="895.1" textLength="11.0" lengthAdjust="spacingAndGlyphs">21</text>
<text x="1710.0" y="895.1" textLength="11.0" lengthAdjust="spacingAndGlyphs">25</text>
</g>

<g class="s" font-size="12" stroke-width="0.25">
<text x="18" y="45.9" fill="#d6d6da" stroke="#d6d6da" textLength="192.5" lengthAdjust="spacingAndGlyphs">Bitcoin / U.S. Dollar · 4h · Bitstamp</text>
<text x="217.6" y="45.9" fill="#d6d6da" stroke="#d6d6da" textLength="8" lengthAdjust="spacingAndGlyphs">O</text>
<text x="226.6" y="45.9" fill="#56c08c" stroke="#56c08c" textLength="40.5" lengthAdjust="spacingAndGlyphs">103,743</text>
<text x="275" y="45.9" fill="#d6d6da" stroke="#d6d6da" textLength="7.5" lengthAdjust="spacingAndGlyphs">H</text>
<text x="283.7" y="45.9" fill="#56c08c" stroke="#56c08c" textLength="41" lengthAdjust="spacingAndGlyphs">104,779</text>
<text x="333" y="45.9" fill="#d6d6da" stroke="#d6d6da" textLength="6" lengthAdjust="spacingAndGlyphs">L</text>
<text x="339.5" y="45.9" fill="#56c08c" stroke="#56c08c" textLength="40.3" lengthAdjust="spacingAndGlyphs">103,317</text>
<text x="388" y="45.9" fill="#d6d6da" stroke="#d6d6da" textLength="7.5" lengthAdjust="spacingAndGlyphs">C</text>
<text x="396" y="45.9" fill="#56c08c" stroke="#56c08c" textLength="41" lengthAdjust="spacingAndGlyphs">104,756</text>
<text x="445" y="45.9" fill="#56c08c" stroke="#56c08c" textLength="84" lengthAdjust="spacingAndGlyphs">+1,009 (+0.97%)</text>
</g>

<g>
<circle cx="1470" cy="865.5" r="10.8" fill="#131722"/>
<circle cx="1470" cy="865.5" r="9.3" fill="#0f0f0f" stroke="#b544d6" stroke-width="1.5"/>
<path d="M1472.6 859.2 L1465.6 866.6 L1469.6 866.6 L1466.8 872 L1474.2 864.6 L1470.2 864.6 Z" fill="#b544d6"/>
<circle cx="1476.5" cy="858.6" r="4.1" fill="#0f0f0f"/>
<circle cx="1476.5" cy="858.6" r="2.8" fill="#f23645"/>
<path d="M1458.8 863.9 Q1459.9 867.9 1463.9 869 Q1459.9 870.1 1458.8 874.1 Q1457.7 870.1 1453.7 869 Q1457.7 867.9 1458.8 863.9Z" fill="#7c4dff" stroke="#0f0f0f" stroke-width="1.6" paint-order="stroke"/>
</g>

<rect x="329" y="494" width="33" height="29" fill="#000"/>
<polyline points="1471.3,560 1478.3,500.3 1482.3,499.7 1543.3,823.4 1847,82.2" fill="none" stroke="#fff" stroke-width="5" stroke-linejoin="round" stroke-linecap="round" shape-rendering="crispEdges"/>

<text class="e" x="74.8" y="75.2" font-size="35.5" fill="#fff200" textLength="23.5" lengthAdjust="spacingAndGlyphs">1</text>
<text class="e" x="365.5" y="519.2" font-size="33.8" fill="#3f48cc" textLength="26.5" lengthAdjust="spacingAndGlyphs">w</text>
<text class="e" x="927.5" y="49" font-size="33.8" fill="#3f48cc" textLength="20.5" lengthAdjust="spacingAndGlyphs">x</text>
<text class="e" x="1094.3" y="608.8" font-size="33.8" fill="#ed1c24" textLength="19.6" lengthAdjust="spacingAndGlyphs">a</text>
<text class="e" x="1249.5" y="261.2" font-size="35.5" fill="#ed1c24" textLength="21.2" lengthAdjust="spacingAndGlyphs">b</text>
<text class="e" x="1298.8" y="549.8" font-size="34" fill="#fff" textLength="22.5" lengthAdjust="spacingAndGlyphs">1</text>
<text class="e" x="1345.9" y="387.2" font-size="35.5" fill="#fff" textLength="19.4" lengthAdjust="spacingAndGlyphs">2</text>
<text class="e" x="1381.6" y="740.3" font-size="35.5" fill="#fff" textLength="22.2" lengthAdjust="spacingAndGlyphs">3</text>
<text class="e" x="1468.5" y="496" font-size="35.5" fill="#fff" textLength="18" lengthAdjust="spacingAndGlyphs">4</text>
<rect x="1472.3" y="494.7" width="13.4" height="1.5" fill="#fff"/>
<text class="e" x="1533.4" y="852" font-size="35.5" fill="#fff" textLength="20.3" lengthAdjust="spacingAndGlyphs">5</text>
<text class="e" x="1564.5" y="852" font-size="35.5" fill="#fff" textLength="80" lengthAdjust="spacingAndGlyphs">EDT</text>
<text class="e" x="1539" y="874.8" font-size="33.8" fill="#ed1c24" textLength="17.6" lengthAdjust="spacingAndGlyphs">c</text>
<text class="e" x="1539.5" y="898.3" font-size="33.8" fill="#3f48cc" textLength="18.5" lengthAdjust="spacingAndGlyphs">y</text>
<text class="e" x="1538.5" y="928.2" font-size="35.5" fill="#fff200" textLength="17.5" lengthAdjust="spacingAndGlyphs">2</text>
</svg></body></html>
